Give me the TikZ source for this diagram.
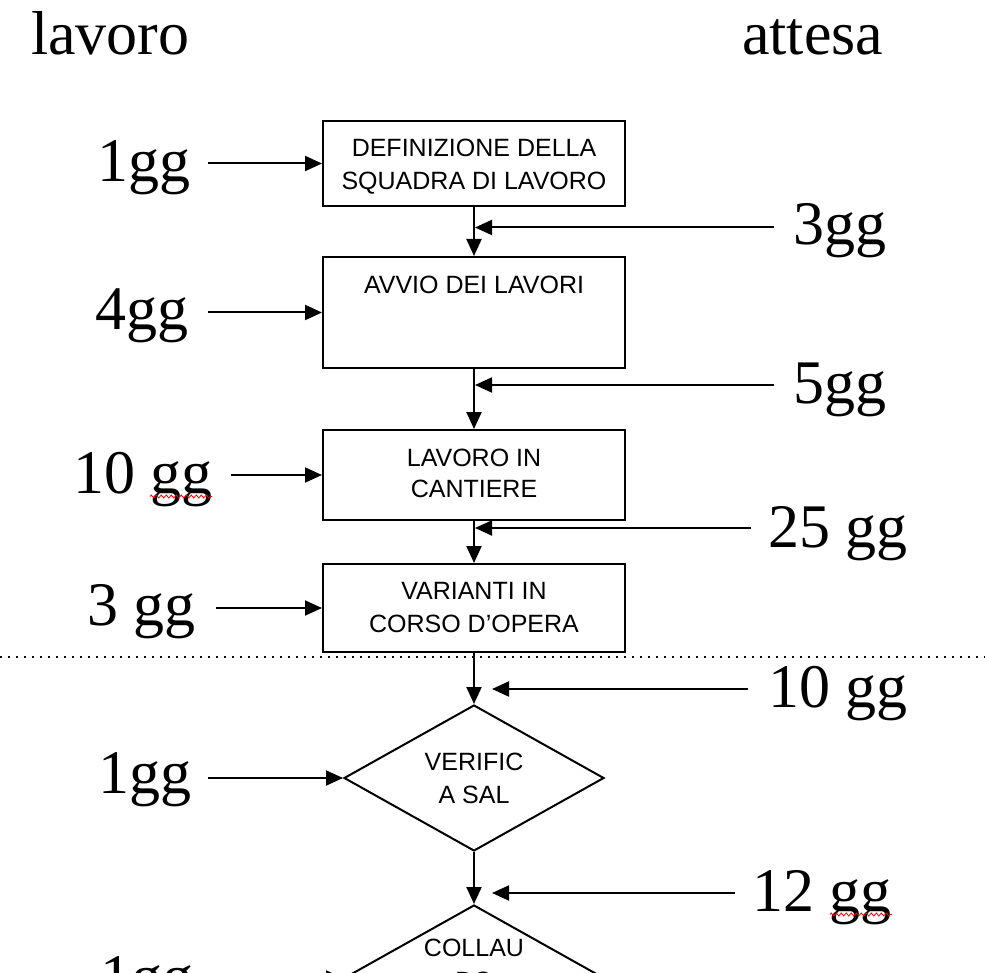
\documentclass[tikz,border=0pt]{standalone}
\usepackage{fontspec}
\setmainfont{Liberation Serif}
\newfontfamily\arialfont{Liberation Sans}
\usetikzlibrary{arrows.meta,shapes.geometric,decorations.pathmorphing}
\begin{document}
\begin{tikzpicture}[x=1pt,y=-1pt,
  big/.style={font=\fontsize{62}{70}\selectfont, inner sep=0pt, anchor=base west},
  boxtxt/.style={font=\arialfont\fontsize{25}{33}\selectfont, inner sep=0pt, anchor=base},
  stepbox/.style={draw, line width=2pt, minimum width=302pt, inner sep=0pt},
  decbox/.style={draw, shape=diamond, line width=2pt, minimum width=260pt, minimum height=146pt, inner sep=0pt},
  arr/.style={line width=2pt, -{Triangle[length=17pt,width=15pt]}},
  squig/.style={red, line width=0.8pt, decorate, decoration={zigzag, amplitude=1.5pt, segment length=5pt}},
  sep/.style={line width=1.6pt, dash pattern=on 1.6pt off 6.4pt}
]
\useasboundingbox (0,0) rectangle (985,973);
\fill[white] (0,0) rectangle (985,973);
\clip (0,0) rectangle (985,973);

% headers
\node[big] (hl) at (31,55) {lavoro};
\node[big] (hr) at (742,55) {attesa};

% boxes
\node[stepbox, minimum height=85pt]  (b1) at (474,163.5) {};
\node[stepbox, minimum height=111pt] (b2) at (474,312.5) {};
\node[stepbox, minimum height=90pt]  (b3) at (474,475) {};
\node[stepbox, minimum height=88pt]  (b4) at (474,608) {};
\node[decbox] (d1) at (474,778) {};
\node[decbox] (d2) at (474,978) {};

% box texts
\node[boxtxt] (t1a) at (474,157) {DEFINIZIONE DELLA};
\node[boxtxt] (t1b) at (474,190) {SQUADRA DI LAVORO};
\node[boxtxt] (t2)  at (474,294) {AVVIO DEI LAVORI};
\node[boxtxt] (t3a) at (474,466) {LAVORO IN};
\node[boxtxt] (t3b) at (474,497) {CANTIERE};
\node[boxtxt] (t4a) at (474,599) {VARIANTI IN};
\node[boxtxt] (t4b) at (474,632) {CORSO D’OPERA};
\node[boxtxt] (t5a) at (474,770) {VERIFIC};
\node[boxtxt] (t5b) at (474,803) {A SAL};
\node[boxtxt] (t6a) at (474,956) {COLLAU};
\node[boxtxt] (t6b) at (474,989) {DO};

% separator
\draw[sep] (0,657) -- (985,657);

% vertical flow
\draw[arr] (b1.south) -- (b2.north);
\draw[arr] (b2.south) -- (b3.north);
\draw[arr] (b3.south) -- (b4.north);
\draw[arr] (b4.south) -- (d1.north);
\draw[arr] (d1.south) -- (d2.north);

% left labels (lavoro)
\node[big] (l1) at (97,182) {1gg};
\node[big] (l2) at (95,330) {4gg};
\node[big] (l3) at (73,493) {10 gg};
\node[big] (l4) at (87,625) {3 gg};
\node[big] (l5) at (98,793) {1gg};
\node[big] (l6) at (100,997) {1gg};
\coordinate (la1) at (208,163.5);
\coordinate (la2) at (208,312.5);
\coordinate (la3) at (231,475);
\coordinate (la4) at (216,608);
\coordinate (la5) at (208,778);
\coordinate (la6) at (208,978);
\draw[arr] (la1) -- (b1.west);
\draw[arr] (la2) -- (b2.west);
\draw[arr] (la3) -- (b3.west);
\draw[arr] (la4) -- (b4.west);
\draw[arr] (la5) -- (d1.west);
\draw[arr] (la6) -- (d2.west);

% right labels (attesa)
\node[big] (r1) at (793,245) {3gg};
\node[big] (r2) at (793,403) {5gg};
\node[big] (r3) at (768,547) {25 gg};
\node[big] (r4) at (768,707.5) {10 gg};
\node[big] (r5) at (752,911.5) {12 gg};
\coordinate (ra1) at (774,227.5);
\coordinate (ra2) at (774,385);
\coordinate (ra3) at (751,528);
\coordinate (ra4) at (748,689);
\coordinate (ra5) at (735,893);
\coordinate (rb1) at (475,227.5);
\coordinate (rb2) at (475,385);
\coordinate (rb3) at (475,528);
\coordinate (rb4) at (492,689);
\coordinate (rb5) at (492,893);
\draw[arr] (ra1) -- (rb1);
\draw[arr] (ra2) -- (rb2);
\draw[arr] (ra3) -- (rb3);
\draw[arr] (ra4) -- (rb4);
\draw[arr] (ra5) -- (rb5);

% spell-check underlines
\draw[squig] (150,496.5) -- (212,496.5);
\draw[squig] (830,914.5) -- (892,914.5);
\end{tikzpicture}
\end{document}
